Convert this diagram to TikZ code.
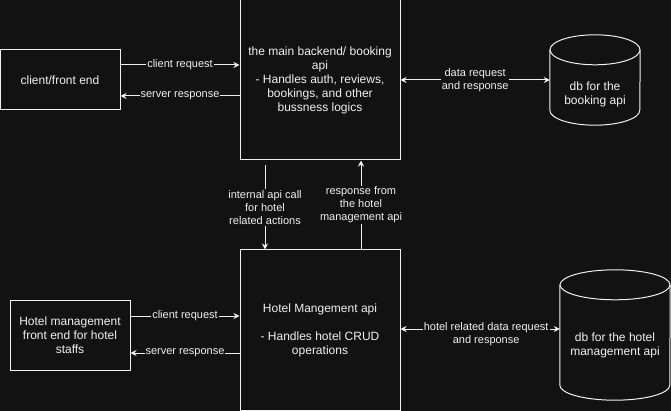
\documentclass[tikz,border=0pt]{standalone}
\usepackage{fontspec}
\setmainfont{Liberation Sans}
\usetikzlibrary{arrows.meta,calc}
\definecolor{bgdark}{HTML}{121212}
\definecolor{fgline}{HTML}{F0F0F0}

\begin{document}
\begin{tikzpicture}[x=1pt, y=-1pt,
  box/.style={draw=fgline, line width=1pt, fill=bgdark, text=fgline, align=center, inner sep=0pt, font=\fontsize{12}{14}\selectfont},
  dbbox/.style={inner sep=0pt},
  dbtext/.style={text=fgline, align=center, inner sep=0pt, font=\fontsize{12}{14}\selectfont},
  dbline/.style={draw=fgline, line width=1pt},
  conn/.style={draw=fgline, line width=1pt, -{Stealth[length=6pt,width=6pt]}},
  bothconn/.style={conn, {Stealth[length=6pt,width=6pt]}-{Stealth[length=6pt,width=6pt]}},
  lbl/.style={fill=bgdark, text=fgline, align=center, inner sep=1pt, font=\fontsize{11}{13}\selectfont}]
\fill[bgdark] (0,0) rectangle (671,411);
\useasboundingbox (0,0) rectangle (671,411);

\node[box, minimum width=120pt, minimum height=60pt] (client) at (60,80) {client/front end};
\node[box, minimum width=160pt, minimum height=160pt] (main) at (320,80) {the main backend/ booking\\api\\- Handles auth, reviews,\\bookings, and other\\bussness logics};
\node[box, minimum width=120pt, minimum height=70pt] (hmfront) at (70,335) {Hotel management\\front end for hotel\\staffs};
\node[box, minimum width=160pt, minimum height=160pt] (hotel) at (320,330) {Hotel Mangement api\\[14pt]- Handles hotel CRUD\\operations};

\node[dbbox, minimum width=90pt, minimum height=90pt] (bookdb) at (595,80) {};
\draw[dbline] ([yshift=-15pt]bookdb.north west) -- ([yshift=15pt]bookdb.south west)
  arc[start angle=180, end angle=360, x radius=45pt, y radius=15pt] -- ([yshift=-15pt]bookdb.north east);
\draw[dbline] ([yshift=-15pt]bookdb.north) ellipse [x radius=45pt, y radius=15pt];
\node[dbtext] (bookdbtext) at ([yshift=-14pt]bookdb.center) {db for the\\booking api};

\node[dbbox, minimum width=110pt, minimum height=130pt] (hoteldb) at (615,335) {};
\draw[dbline] ([yshift=-15pt]hoteldb.north west) -- ([yshift=15pt]hoteldb.south west)
  arc[start angle=180, end angle=360, x radius=55pt, y radius=15pt] -- ([yshift=-15pt]hoteldb.north east);
\draw[dbline] ([yshift=-15pt]hoteldb.north) ellipse [x radius=55pt, y radius=15pt];
\node[dbtext] (hoteldbtext) at ([yshift=-10pt]hoteldb.center) {db for the hotel\\management api};

\draw[conn] (client.east |- 0,65) -- (main.west |- 0,65) node[midway, lbl] {client request};
\draw[conn] (main.west |- 0,96) -- (client.east |- 0,96) node[midway, lbl] {server response};
\draw[bothconn] (main.east |- 0,80) -- (bookdb.west |- 0,80) node[midway, lbl] {data request\\and response};

\coordinate (callstart) at ($(main.south)+(-55,5)$);
\draw[conn] (callstart) -- (callstart |- hotel.north) node[midway, lbl] {internal api call\\for hotel\\related actions};
\draw[conn] ($(hotel.north)+(41,0)$) -- ($(main.south)+(41,0)$) node[midway, lbl] {response from\\the hotel\\management api};

\draw[conn] (hmfront.east |- 0,316) -- (hotel.west |- 0,316) node[midway, lbl] {client request};
\draw[conn] (hotel.west |- 0,353) -- (hmfront.east |- 0,353) node[midway, lbl] {server response};
\draw[bothconn] (hotel.east |- 0,329) -- (hoteldb.west |- 0,329) node[midway, lbl, xshift=6pt, yshift=-5pt] {hotel related data request\\and response};
\end{tikzpicture}
\end{document}
